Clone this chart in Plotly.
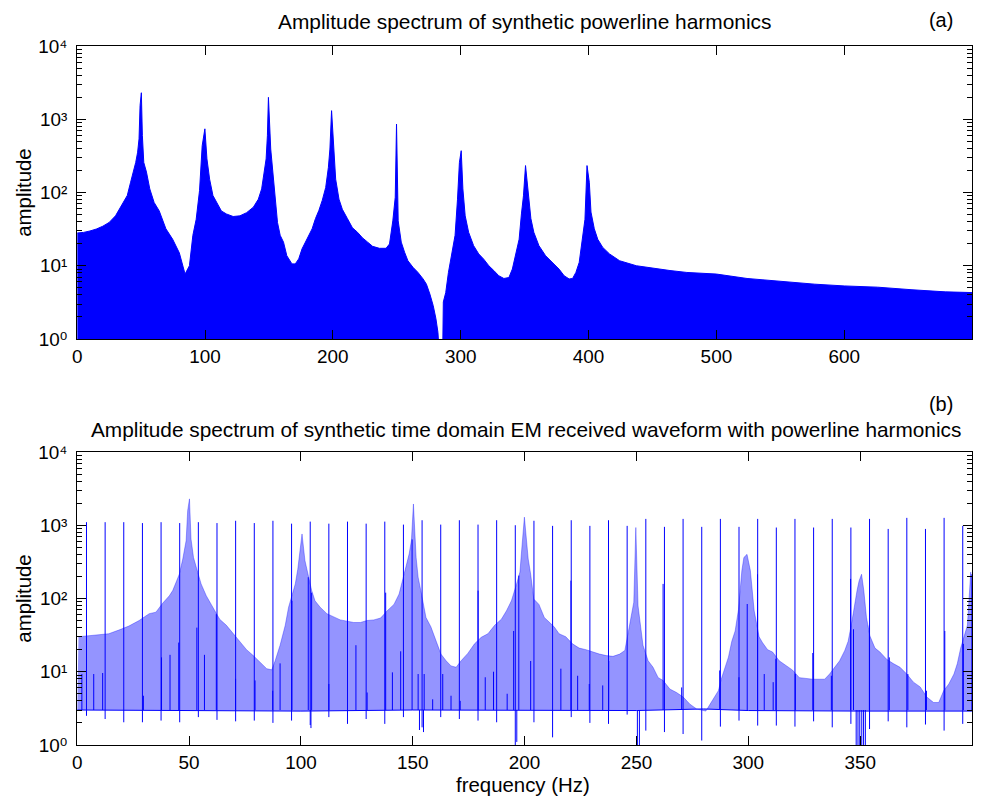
import plotly.graph_objects as go

# ---------------- (a) synthetic powerline harmonics: envelope of amplitude spectrum
a_freq = [0, 5, 10, 15, 20, 25, 30, 35.3, 39.2, 41.8, 44.4, 45.8, 47.3, 48.4, 49.2, 50.2,
          51.0, 52.1, 54.2, 56.8, 60.2, 64.2, 69.4, 74.7, 79.9, 84.4, 87.8, 90.5, 93.1, 95.7,
          97.8, 99.9, 101.5, 103.6, 106.2, 108.9, 112.8, 116.7, 122, 127.3, 132.5, 137.8,
          141.7, 144.3, 146.2, 147.8, 148.8, 149.6, 151.4, 153, 154.9, 156.7, 158.8, 161.4,
          164, 168, 170.6, 173.3, 175.9, 178.5, 181.2, 183.8, 186.4, 189.1, 191.7, 194.4,
          196.5, 197.7, 199, 200.6, 202.2, 204.8, 207.4, 211.4, 215.3, 219.3, 223.2, 227.2,
          231.1, 236.4, 241.6, 244.3, 246.9, 248.8, 249.8, 251.1, 253.5, 256.1, 258.7, 262.7,
          266.6, 270.6, 273.2, 275.9, 278.5, 280.6, 282.2, 283.3, 285.9, 286.4, 288.3, 290.4,
          293, 295.6, 297.5, 299, 300.4, 301.7, 303.5, 306.2, 310.1, 314.1, 318, 322, 325.9,
          329.8, 333.8, 337.7, 340.4, 343, 345.7, 347.5, 349.1, 350.7, 352.3, 354.9, 357.2,
          361.2, 366.4, 371.7, 376.9, 380.9, 384.8, 387.5, 390.1, 392.7, 395.4, 397.2, 398.8,
          400.6, 401.9, 404.5, 407.2, 411.1, 416.4, 424.3, 437.4, 450.6, 463.7, 476.9, 500,
          524, 550, 577, 600, 626, 653, 679, 700]
a_amp = [28, 28.5, 29.8, 31.7, 34.6, 39, 48, 70, 91, 138, 200, 257, 355, 540, 1540, 2300,
         600, 257, 190, 112, 73, 56, 32, 23, 15, 7.7, 10, 26, 43, 106,
         436, 740, 288, 152, 91, 74, 56, 51, 47, 48, 53, 63,
         81, 112, 189, 287, 595, 1990, 392, 189, 74, 39, 26, 21,
         13.7, 10.6, 10.6, 12.4, 17, 21, 26, 32, 44, 57, 78, 117,
         220, 392, 1310, 355, 152, 81, 59, 44, 33, 28.6, 24, 21,
         18.4, 17.3, 17.3, 19.8, 41, 86, 860, 41, 21, 15.3, 11.7, 9.5,
         8.1, 6.6, 5.6, 4.1, 2.85, 1.9, 1.23, 0.6, 0.6, 3.2, 4.3, 8.1,
         13.7, 26, 81, 257, 372, 112, 48, 28.6, 18.8, 14.5, 12.3, 10, 8.6,
         7.3, 6.7, 6.9, 9.0, 13.7, 23, 51, 90, 233, 112, 44, 28.6,
         18.8, 13.7, 11.1, 9.0, 7.3, 6.6, 6.7, 8.1, 11.1, 23, 43, 233,
         138, 54, 32, 23, 17.8, 14.5, 11.7, 10, 9.2, 8.6, 8.1, 7.7,
         6.7, 6.1, 5.6, 5.3, 5.1, 4.7, 4.4, 4.3]

# ---------------- (b) EM received waveform with powerline harmonics
b_env_freq = [0.6, 5.1, 9.6, 14.1, 18.6, 23.1, 27.7, 32.2, 35.2, 38.2, 41.2, 42.7, 44.2, 45.7,
              47.2, 48.7, 49.4, 50.2, 50.9, 52.0, 53.5, 55.4, 57.7, 60.7, 63.7, 66.7, 69.7,
              72.7, 75.7, 78.7, 81.7, 84.7, 87.0, 88.5, 90.7, 93.0, 94.5, 96.0, 97.5, 98.6,
              100.5, 101.8, 103.3, 104.8, 106.3, 108.6, 111.6, 114.6, 117.6, 120.6, 123.6,
              126.6, 129.6, 132.6, 135.6, 138.6, 141.6, 143.9, 145.4, 146.9, 148.4, 149.4,
              150.3, 151.5, 152.4, 153.9, 155.9, 158.1, 160.4, 162.6, 164.9, 167.1, 169.4,
              171.6, 174.6, 177.6, 180.6, 183.6, 186.6, 189.6, 191.9, 194.1, 196.4, 197.9,
              198.9, 199.9, 201.6, 202.7, 204.1, 206.4, 208.8, 211.0, 213.2, 215.4, 218.4,
              221.4, 224.4, 227.4, 230.5, 233.5, 236.5, 239.5, 242.5, 244.8, 246.2, 247.7,
              248.8, 249.7, 250.7, 252.9, 255.2, 257.4, 259.7, 261.9, 264.9, 267.9, 270.9,
              273.9, 276.9, 281.0, 286.6, 288.1, 289.6, 291.1, 292.6, 294.1, 295.6, 297.1,
              298.0, 299.4, 300.9, 301.5, 302.6, 304.8, 306.3, 308.6, 310.8, 313.8, 316.8,
              319.8, 322.8, 325.8, 328.8, 331.8, 334.1, 336.3, 338.6, 340.8, 343.1, 344.6,
              346.1, 347.6, 348.6, 349.5, 350.6, 351.6, 352.8, 354.3, 356.6, 358.8, 361.8,
              364.8, 367.8, 370.8, 373.8, 376.8, 379.8, 382.8, 385.1, 387.3, 389.6, 391.9,
              393.4, 394.9, 396.4, 397.9, 399.4, 400]
b_env_amp = [30, 31, 32, 33, 37, 42, 50, 62, 65, 86, 109, 128, 166, 216,
             346, 617, 1585, 2290, 645, 363, 251, 158, 109, 76, 52, 43, 33,
             26, 20, 16.6, 13.4, 11, 10.6, 14.1, 23, 43, 76, 109, 158, 251,
             760, 331, 195, 129, 93, 76, 62, 56, 51, 49, 47,
             47, 50, 51, 54, 68, 83, 115, 174, 269, 407, 617,
             1950, 363, 195, 115, 55, 41, 26, 17.4, 14.1, 12, 11.5,
             14.1, 17.8, 24, 29.5, 33, 43, 52, 68, 93, 158, 229,
             550, 1290, 347, 214, 98, 83, 55, 47, 41, 33, 30,
             24, 21, 20, 18.6, 17.4, 16.6, 16.2, 17.4, 19.5, 33, 55,
             89, 930, 79, 23, 14.1, 11.5, 8.3, 7.6, 5.8, 5.2, 4.5,
             3.6, 3.1, 2.9, 5.5, 8.3, 11.5, 15.8, 26, 36, 71, 240,
             363, 400, 240, 158, 68, 30, 25, 20, 18.6, 14.1, 12,
             10.5, 8.3, 8.1, 7.9, 7.9, 7.9, 9.3, 11.5, 14.1, 19.5, 26,
             45, 93, 129, 174, 214, 129, 55, 31, 21, 18.6, 14.8,
             12.9, 11.5, 9.3, 7.2, 6.2, 4.5, 3.8, 3.8, 5.5, 6.8, 9.3,
             12.9, 21, 30, 43, 229, 93]

b_base_freq = [0, 50, 100, 150, 200, 250, 280, 300, 350, 400]
b_base_amp = [3.0, 2.95, 2.9, 3.0, 2.95, 2.95, 3.1, 2.95, 2.9, 2.9]
B_LEVEL = 3.0

spike_freq = [4.17, 12.5, 20.83, 29.17, 37.5, 45.83, 54.17, 62.5, 70.83, 79.17, 87.5, 95.83,
              104.17, 112.5, 120.83, 129.17, 137.5, 145.83, 154.17, 162.5, 170.83, 179.17,
              187.5, 195.83, 204.17, 212.5, 220.83, 229.17, 237.5, 245.83, 254.17, 262.5,
              270.83, 279.17, 287.5, 295.83, 304.17, 312.5, 320.83, 329.17, 337.5, 345.83,
              354.17, 362.5, 370.83, 379.17, 387.5, 395.83]
spike_peak = [1100, 1100, 1100, 1070, 1100, 1070, 1100, 1070, 1150, 1070, 1150, 1050,
              1120, 1050, 1120, 1050, 1120, 1020, 1170, 1020, 1170, 1020, 1170, 1000,
              1150, 980, 1170, 980, 1170, 980, 1220, 950, 1220, 950, 1220, 950,
              1220, 930, 1220, 930, 1220, 930, 1220, 890, 1260, 890, 1260, 980]
spike_dip = [2.5, 2.26, 2.04, 2.04, 2.15, 2.04, 2.4, 2.2, 2.1, 2.15, 2.0, 2.15,
             1.87, 2.4, 1.94, 2.26, 1.94, 2.4, 1.74, 2.4, 2.26, 2.15, 2.04, 0.9,
             2.04, 1.27, 2.4, 2.0, 1.94, 2.6, 1.57, 1.5, 1.41, 1.15, 1.78, 2.15,
             1.84, 1.84, 1.78, 2.1, 1.74, 1.94, 1.65, 2.1, 1.74, 1.9, 1.57, 1.94]

# darker side-lobe lines next to the transmitter lines
dark_freq = [2.1, 7.4, 11.4, 29.6, 37.7, 41.5, 45.4, 53.5, 56.9, 62.2, 70.8, 79.5, 87.4,
             90.7, 96.0, 103.3, 104.8, 112.5, 124.6, 129.6, 137.9, 140.9, 144.6, 149.7,
             152.4, 155.1, 158.9, 163.4, 167.1, 171.2, 179.2, 182.4, 186.1, 192.2, 195.1,
             197.4, 202.7, 216.2, 220.7, 223.7, 228.9, 234.9, 237.6, 261.9, 270.2, 287.2,
             295.8, 299.5, 304.1, 307.1, 311.1, 312.3, 321.0, 328.8, 337.1, 345.7, 347.0,
             354.1, 363.0, 371.3, 379.6, 387.8, 396.1, 399.9]
dark_amp = [9.3, 9.3, 9.6, 4.7, 15.7, 17, 25, 40, 17, 61, 8, 7.6, 5.5,
            13, 93, 195, 120, 6.8, 23, 5.2, 120, 9.8, 19, 640,
            9.3, 9.3, 4.2, 9.3, 4.7, 4.0, 128, 8.4, 10, 5, 36,
            205, 14, 11, 175, 8.8, 6.8, 6.5, 14, 158, 6.1, 10.4,
            8.4, 84, 214, 9.3, 7.2, 15, 9.3, 18, 8.8, 185, 38,
            43, 15.7, 9.3, 5.5, 36, 24, 214]

deep_dip_freq = [104.5, 153.0, 154.8, 196.5, 250.4, 251.3, 348.2, 349.0, 349.8, 350.7, 351.5, 352.3]
deep_dip_amp = [1.7, 1.6, 1.5, 1.1, 0.85, 0.9, 0.7, 0.8, 0.7, 0.7, 0.8, 0.9]

a_xticks = [0, 100, 200, 300, 400, 500, 600, 700]
b_xticks = [0, 50, 100, 150, 200, 250, 300, 350, 400]
y_ticks = [1, 10, 100, 1000, 10000]
y_ticktext = ["10\u2070", "10\u00b9", "10\u00b2", "10\u00b3", "10\u2074"]
y_minor = [m * 10 ** d for d in range(4) for m in range(2, 10)]

BLUE = "rgb(0,0,255)"
LIGHT = "rgba(0,0,255,0.42)"
FLOOR = 0.01

W, H = 987, 806
# the rendered page shows the figure slightly inset and shrunk; these constants
# map the wanted on-screen pixel position back to figure pixels
OX, SX, OY, SY = 4.0, 0.983, 11.0, 0.974


def px_x(v):
    return ((v - OX) / SX) / W


def px_y(v):
    return 1 - ((v - OY) / SY) / H


def fs(v):
    return round(v / 0.978, 1)


fig = go.Figure()

# (a) filled spectrum
fig.add_trace(go.Scatter(x=[a_freq[0], a_freq[-1]], y=[FLOOR, FLOOR], mode="lines",
                         line=dict(width=0, color=BLUE), xaxis="x", yaxis="y",
                         hoverinfo="skip"))
fig.add_trace(go.Scatter(x=a_freq, y=a_amp, mode="lines", fill="tonexty", fillcolor=BLUE,
                         line=dict(width=1, color=BLUE), xaxis="x", yaxis="y"))

# (b) light harmonic lines between baseline and envelope
fig.add_trace(go.Scatter(x=b_base_freq, y=b_base_amp, mode="lines",
                         line=dict(width=0, color=LIGHT), xaxis="x2", yaxis="y2",
                         hoverinfo="skip"))
fig.add_trace(go.Scatter(x=b_env_freq, y=b_env_amp, mode="lines", fill="tonexty",
                         fillcolor=LIGHT, line=dict(width=0.8, color=LIGHT),
                         xaxis="x2", yaxis="y2"))
# dark baseline
fig.add_trace(go.Scatter(x=b_base_freq, y=b_base_amp, mode="lines",
                         line=dict(width=1, color=BLUE), xaxis="x2", yaxis="y2"))
# transmitter spikes, side lobes and dips
sx, sy = [], []
for f, p, d in zip(spike_freq, spike_peak, spike_dip):
    sx += [f, f, None]
    sy += [d, p, None]
for f, v in zip(dark_freq, dark_amp):
    sx += [f, f, None]
    sy += [B_LEVEL, v, None]
for f, d in zip(deep_dip_freq, deep_dip_amp):
    sx += [f, f, None]
    sy += [B_LEVEL, d, None]
fig.add_trace(go.Scatter(x=sx, y=sy, mode="lines", line=dict(width=1, color=BLUE),
                         connectgaps=False, xaxis="x2", yaxis="y2"))

# empty traces so the minor-tick overlay axes get drawn
fig.add_trace(go.Scatter(x=[None], y=[None], xaxis="x", yaxis="y3", hoverinfo="skip"))
fig.add_trace(go.Scatter(x=[None], y=[None], xaxis="x2", yaxis="y4", hoverinfo="skip"))

XDOM = [px_x(75.3), min(px_x(963), 972 / W)]
YDOM_A = [px_y(340), px_y(47)]
YDOM_B = [px_y(746), px_y(453)]
axis_common = dict(showline=True, linecolor="black", linewidth=1, mirror="ticks",
                   ticks="inside", tickcolor="black", showgrid=False, zeroline=False,
                   tickfont=dict(size=fs(18.5)))
yaxis_common = dict(axis_common, type="log", range=[0, 4], tickvals=y_ticks,
                    ticktext=y_ticktext, ticklen=9, ticklabelstandoff=5)
minor_common = dict(type="log", range=[0, 4], tickvals=y_minor, ticks="inside",
                    ticklen=5, tickcolor="black", showticklabels=False, showgrid=False,
                    zeroline=False, showline=True, linecolor="black", mirror="ticks")

fig.update_layout(
    width=W, height=H, margin=dict(l=0, r=0, t=0, b=0),
    paper_bgcolor="white", plot_bgcolor="white", showlegend=False,
    font=dict(family="Liberation Sans, DejaVu Sans, Arial, sans-serif", size=18,
              color="black"),
    xaxis=dict(axis_common, domain=XDOM, range=[0, 700], tickvals=a_xticks, ticklen=9,
               anchor="y"),
    yaxis=dict(yaxis_common, domain=YDOM_A, anchor="x"),
    yaxis3=dict(minor_common, domain=YDOM_A, anchor="x", overlaying="y"),
    xaxis2=dict(axis_common, domain=XDOM, range=[0, 400], tickvals=b_xticks, ticklen=9,
                anchor="y2"),
    yaxis2=dict(yaxis_common, domain=YDOM_B, anchor="x2"),
    yaxis4=dict(minor_common, domain=YDOM_B, anchor="x2", overlaying="y2"),
)

ann = [
    dict(text="Amplitude spectrum of synthetic powerline harmonics", x=px_x(517),
         y=px_y(23), size=fs(20.4)),
    dict(text="Amplitude spectrum of synthetic time domain EM received waveform with powerline harmonics",
         x=px_x(519), y=px_y(431), size=fs(20.3)),
    dict(text="(a)", x=px_x(929), y=1 - 10 / H, size=fs(19.5)),
    dict(text="(b)", x=px_x(929), y=px_y(405), size=fs(19.5)),
    dict(text="frequency (Hz)", x=px_x(516), y=1 - 796 / H, size=fs(20)),
    dict(text="amplitude", x=px_x(23), y=px_y(193.5), textangle=-90, size=fs(20)),
    dict(text="amplitude", x=px_x(23), y=px_y(599.5), textangle=-90, size=fs(20)),
]
for a in ann:
    size = a.pop("size")
    fig.add_annotation(xref="paper", yref="paper", showarrow=False, xanchor="center",
                       yanchor="middle", font=dict(size=size, color="black"), **a)

fig.write_html("out.html", config={"staticPlot": True, "displayModeBar": False})
